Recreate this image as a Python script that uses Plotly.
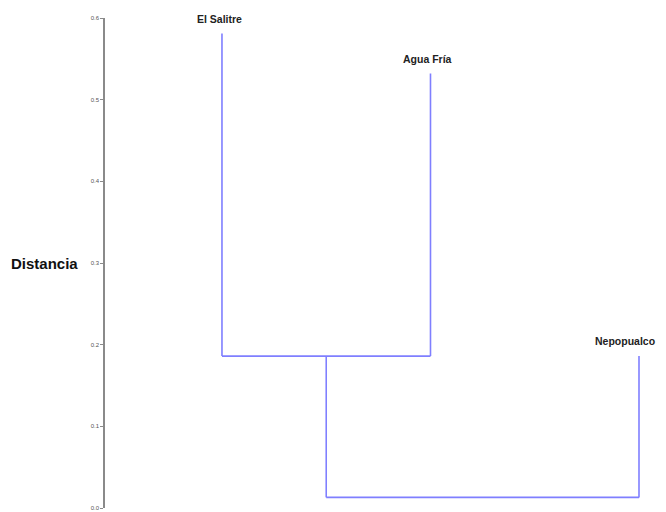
import plotly.graph_objects as go

# Data
leaves = ["El Salitre", "Agua Fría", "Nepopualco"]
leaf_pos = [1, 2, 3]
leaf_top = [0.581, 0.532, 0.186]      # tops of leaf branches
merge1_height = 0.186                  # El Salitre + Agua Fría join
merge2_height = 0.013                  # join with Nepopualco
yticks = [0.0, 0.1, 0.2, 0.3, 0.4, 0.5, 0.6]

line_color = "#7f7fff"
fig = go.Figure()

mid1 = (leaf_pos[0] + leaf_pos[1]) / 2
segments = [
    ([leaf_pos[0], leaf_pos[0]], [leaf_top[0], merge1_height]),
    ([leaf_pos[1], leaf_pos[1]], [leaf_top[1], merge1_height]),
    ([leaf_pos[0], leaf_pos[1]], [merge1_height, merge1_height]),
    ([mid1, mid1], [merge1_height, merge2_height]),
    ([mid1, leaf_pos[2]], [merge2_height, merge2_height]),
    ([leaf_pos[2], leaf_pos[2]], [merge2_height, leaf_top[2]]),
]
for xs, ys in segments:
    fig.add_trace(go.Scatter(x=xs, y=ys, mode="lines",
                             line=dict(color=line_color, width=1.6),
                             showlegend=False, hoverinfo="skip"))

label_shift = [-2, -3, -14]
for name, xp, yt, dx in zip(leaves, leaf_pos, leaf_top, label_shift):
    fig.add_annotation(x=xp, y=yt, text="<b>" + name + "</b>", showarrow=False,
                       yshift=15, xshift=dx, xanchor="center", yanchor="middle",
                       font=dict(family="Liberation Sans", size=10.5, color="#222222"))

fig.add_annotation(xref="paper", x=-0.107, yref="y", y=0.3,
                   text="<b>Distancia</b>", showarrow=False,
                   xanchor="center", yanchor="middle",
                   font=dict(family="Liberation Sans", size=15, color="#111111"))

fig.update_layout(
    width=658, height=504,
    margin=dict(l=97, r=0, t=10, b=4),
    paper_bgcolor="white", plot_bgcolor="white",
    xaxis=dict(range=[0.439, 3.1295], visible=False, showgrid=False, zeroline=False),
    yaxis=dict(range=[0, 0.6], tickvals=yticks, ticktext=[f"{v:.1f}" for v in yticks],
               showgrid=False, zeroline=False, showline=True, linecolor="#8a8a8a",
               linewidth=1.5, ticks="outside", ticklen=3, tickcolor="#8a8a8a",
               tickfont=dict(family="Liberation Sans", size=6, color="#555555")),
)

fig.write_html("out.html")
